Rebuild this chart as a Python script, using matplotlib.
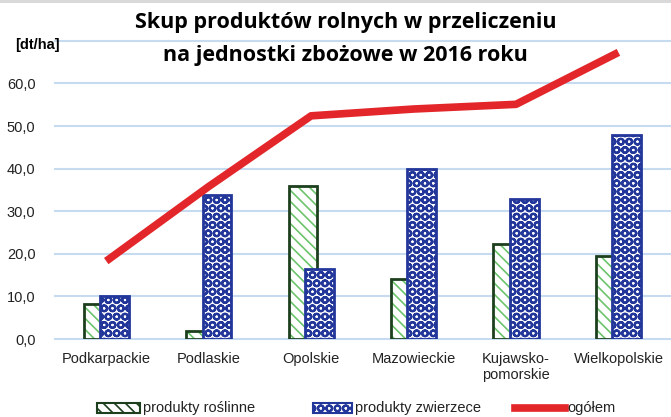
import matplotlib.pyplot as plt
import numpy as np
from matplotlib.patches import Rectangle
from matplotlib.lines import Line2D

plt.rcParams['font.family'] = ['Liberation Sans', 'DejaVu Sans']

regions = ['Podkarpackie', 'Podlaskie', 'Opolskie', 'Mazowieckie',
           'Kujawsko-\npomorskie', 'Wielkopolskie']
roslinne = [8.3, 2.0, 36.0, 14.0, 22.3, 19.5]
zwierzece = [10.0, 33.8, 16.4, 40.0, 32.8, 47.8]
ogolem = [18.3, 35.8, 52.4, 54.0, 55.1, 67.3]
series_names = ['produkty roślinne', 'produkty zwierzece', 'ogółem']

green_dark = '#1d3f1d'
green_light = '#6cc46c'
blue = '#23379a'
red = '#e3262a'
grid_col = '#c6dbf0'

W, H = 671, 417
fig = plt.figure(figsize=(W / 100, H / 100), dpi=100)
ax = fig.add_axes([0.082, 0.187, 0.916, 0.715])

x = np.arange(len(regions))
w = 0.28
off = 0.08

# green bars: hatch fill then dark outline
plt.rcParams['hatch.linewidth'] = 1.2
ax.bar(x - off, roslinne, w, facecolor='white', edgecolor=green_light,
       hatch='\\\\\\', linewidth=0, zorder=2)
ax.bar(x - off, roslinne, w, facecolor='none', edgecolor=green_dark,
       linewidth=2, zorder=3)
# blue bars on top
plt.rcParams['hatch.linewidth'] = 1.6
ax.bar(x + off, zwierzece, w, facecolor='white', edgecolor=blue,
       hatch='OO', linewidth=0, zorder=4)
ax.bar(x + off, zwierzece, w, facecolor='none', edgecolor=blue,
       linewidth=2, zorder=5)

ax.plot(x, ogolem, color=red, linewidth=5.5, zorder=6, solid_capstyle='butt')

ax.set_ylim(0, 70)
ax.set_xlim(-0.5, len(regions) - 0.5)
ax.set_yticks(np.arange(0, 70, 10))
ax.set_yticklabels([f'{v:.1f}'.replace('.', ',') for v in np.arange(0, 70, 10)])
ax.set_xticks(x)
ax.set_xticklabels(regions)
ax.tick_params(length=0, labelsize=10.5, colors='#222222')
ax.tick_params(axis='y', pad=14)
ax.tick_params(axis='x', pad=9)
for s in ax.spines.values():
    s.set_visible(False)
for v in range(0, 80, 10):
    ax.axhline(v, color=grid_col, linewidth=1.5, zorder=1, clip_on=False)

fig.text(0.515, 0.906, 'Skup produktów rolnych w przeliczeniu\nna jednostki zbożowe w 2016 roku',
         ha='center', va='center', fontsize=15.5, fontweight='bold',
         family=['Open Sans', 'DejaVu Sans'], linespacing=1.75)
fig.text(0.022, 0.893, '[dt/ha]', fontsize=10.5, fontweight='bold', va='center')

# thin grey strip along the top edge
fig.add_artist(Rectangle((0, 1 - 2.5 / H), 1, 2.5 / H, transform=fig.transFigure,
                         facecolor='#d9d9d9', edgecolor='none'))

# legend laid out by hand in pixel positions
ly = 1 - 408 / H
plt.rcParams['hatch.linewidth'] = 1.2
fig.add_artist(Rectangle((97 / W, 1 - 413 / H), 43 / W, 10 / H, transform=fig.transFigure,
                         facecolor='white', edgecolor=green_dark, hatch='\\\\\\',
                         linewidth=1.5))
plt.rcParams['hatch.linewidth'] = 1.5
fig.add_artist(Rectangle((313 / W, 1 - 413 / H), 39 / W, 10 / H, transform=fig.transFigure,
                         facecolor='white', edgecolor=blue, hatch='OO',
                         linewidth=1.5))
fig.add_artist(Line2D([515 / W, 565 / W], [ly, ly], transform=fig.transFigure,
                      color=red, linewidth=5.5))
for tx, name in zip([143, 355, 567], series_names):
    fig.text(tx / W, ly, name, fontsize=10.5, va='center', ha='left', color='#222222')

fig.savefig('out.png', dpi=100)
